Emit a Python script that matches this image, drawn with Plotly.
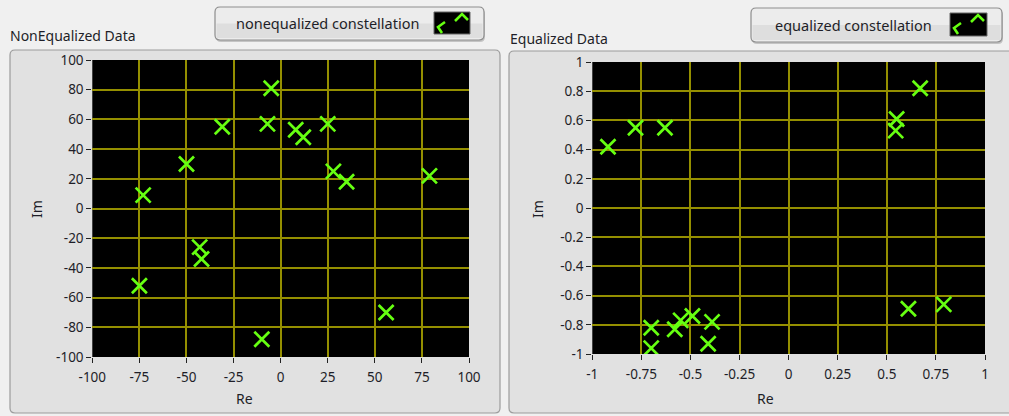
import plotly.graph_objects as go

# Received symbols before equalization (Re, Im)
re_noneq = [-5, -7, -31, 8, 12, 25, 28, 35, 79, -50, -73, -43, -42, -75, -10, 56]
im_noneq = [81, 57, 55, 53, 48, 57, 25, 18, 22, 30, 9, -26, -34, -52, -88, -70]

# Symbols after equalization (Re, Im)
re_eq = [-0.92, -0.78, -0.63, 0.55, 0.545, 0.67, 0.61, 0.79,
         -0.70, -0.70, -0.58, -0.55, -0.49, -0.39, -0.41]
im_eq = [0.42, 0.55, 0.55, 0.61, 0.53, 0.82, -0.69, -0.66,
         -0.82, -0.96, -0.83, -0.77, -0.74, -0.78, -0.93]

# Axis ticks
ticks_noneq_x = [-100, -75, -50, -25, 0, 25, 50, 75, 100]
ticks_noneq_y = [-100, -80, -60, -40, -20, 0, 20, 40, 60, 80, 100]
ticks_eq_x = [-1, -0.75, -0.5, -0.25, 0, 0.25, 0.5, 0.75, 1]
ticks_eq_y = [-1, -0.8, -0.6, -0.4, -0.2, 0, 0.2, 0.4, 0.6, 0.8, 1]

W, H = 1009, 416
FONT = "Noto Sans"
GREEN = "#66ff11"
GRID = "#948f00"
TEXT = "#1e1e28"


def fx(px):
    return px / W


def fy(py):
    return 1 - py / H


def fmt(v):
    return f"{v:g}"


def rounded_rect(x0, y0, x1, y1, r):
    # path in paper coordinates from pixel corners
    rx, ry = r / W, r / H
    X0, X1 = fx(x0), fx(x1)
    Y0, Y1 = fy(y0), fy(y1)  # Y0 top, Y1 bottom
    return (f"M {X0 + rx},{Y0} L {X1 - rx},{Y0} Q {X1},{Y0} {X1},{Y0 - ry} "
            f"L {X1},{Y1 + ry} Q {X1},{Y1} {X1 - rx},{Y1} "
            f"L {X0 + rx},{Y1} Q {X0},{Y1} {X0},{Y1 + ry} "
            f"L {X0},{Y0 - ry} Q {X0},{Y0} {X0 + rx},{Y0} Z")


def pts_path(points):
    return "M " + " L ".join(f"{fx(a)},{fy(b)}" for a, b in points)


def label(text, x, y, xanchor="center", angle=0, size=14):
    return dict(text=text, x=fx(x), y=fy(y), xref="paper", yref="paper",
                xanchor=xanchor, yanchor="middle", showarrow=False,
                textangle=angle, font=dict(family=FONT, size=size, color=TEXT))


fig = go.Figure()

marker = dict(symbol="x-thin-open", size=15, color=GREEN,
              line=dict(color=GREEN, width=2.7))

fig.add_trace(go.Scatter(x=re_noneq, y=im_noneq, mode="markers", marker=marker,
                         xaxis="x", yaxis="y", showlegend=False,
                         name="nonequalized constellation"))
fig.add_trace(go.Scatter(x=re_eq, y=im_eq, mode="markers", marker=marker,
                         xaxis="x2", yaxis="y2", showlegend=False,
                         name="equalized constellation"))

axis_common = dict(
    showgrid=True, gridcolor=GRID, gridwidth=1.6, zeroline=False,
    ticks="outside", ticklen=5, tickwidth=1, tickcolor="#222",
    showline=False, fixedrange=True, automargin=False,
    tickfont=dict(family=FONT, size=13.5, color=TEXT),
)
xaxis_extra = dict(ticklabelstandoff=3)

shapes = []
annotations = []

# Panel frames
shapes.append(dict(type="path", xref="paper", yref="paper",
                   path=rounded_rect(10, 50, 500, 413, 5),
                   fillcolor="#e1e1e1", line=dict(color="#9c9c9c", width=1.2),
                   layer="below"))
shapes.append(dict(type="path", xref="paper", yref="paper",
                   path=rounded_rect(509, 51, 1020, 413, 5),
                   fillcolor="#e1e1e1", line=dict(color="#9c9c9c", width=1.2),
                   layer="below"))

# Black plotting areas on top of the panels
for xa, ya in [("x", "y"), ("x2", "y2")]:
    shapes.append(dict(type="rect", xref=f"{xa} domain", yref=f"{ya} domain",
                       x0=0, x1=1, y0=0, y1=1, fillcolor="black",
                       line=dict(width=0), layer="below"))

# Legend buttons
for (bx0, by0, bx1, by1, ix0, iy0, ix1, iy1, text, cx, cy) in [
    (215, 7, 484, 40, 434, 12, 470, 34, "nonequalized constellation", 327, 23),
    (751, 8, 1002, 42, 950, 13, 987, 36, "equalized constellation", 853, 25),
]:
    shapes.append(dict(type="path", xref="paper", yref="paper",
                       path=rounded_rect(bx0 + 1, by0 + 2, bx1 + 1, by1 + 2, 5),
                       fillcolor="#c4c4c4", line=dict(width=0), layer="below"))
    shapes.append(dict(type="path", xref="paper", yref="paper",
                       path=rounded_rect(bx0, by0, bx1, by1, 5),
                       fillcolor="#ececec", line=dict(color="#8e8e8e", width=1.2),
                       layer="below"))
    # lower half of the button is slightly darker
    shapes.append(dict(type="rect", xref="paper", yref="paper",
                       x0=fx(bx0 + 1.5), x1=fx(bx1 - 1.5),
                       y0=fy(by1 - 2), y1=fy((by0 + by1) / 2),
                       fillcolor="#dedede", line=dict(width=0), layer="below"))
    shapes.append(dict(type="rect", xref="paper", yref="paper",
                       x0=fx(ix0), x1=fx(ix1), y0=fy(iy1), y1=fy(iy0),
                       fillcolor="black", line=dict(color="#666", width=1)))
    # marker glyph fragments in the legend swatch
    shapes.append(dict(type="path", xref="paper", yref="paper",
                       path=pts_path([(ix0 + 11, iy0 + 10), (ix0 + 4, iy0 + 15),
                                      (ix0 + 8, iy0 + 21)]),
                       line=dict(color=GREEN, width=2.6)))
    shapes.append(dict(type="path", xref="paper", yref="paper",
                       path=pts_path([(ix0 + 21, iy0 + 9), (ix0 + 28, iy0 + 2),
                                      (ix0 + 34, iy0 + 8)]),
                       line=dict(color=GREEN, width=2.6)))
    annotations.append(label(text, cx, cy, size=14.5))

# Graph titles
annotations.append(label("NonEqualized Data", 8, 35, xanchor="left"))
annotations.append(label("Equalized Data", 508, 38, xanchor="left"))

# Axis titles
annotations.append(label("Re", 244, 398))
annotations.append(label("Im", 36, 209, angle=-90))
annotations.append(label("Re", 765, 398))
annotations.append(label("Im", 537, 209, angle=-90))

fig.update_layout(
    width=W, height=H,
    margin=dict(l=0, r=0, t=0, b=0, pad=0, autoexpand=False),
    paper_bgcolor="#f0f0f0",
    plot_bgcolor="black",
    shapes=shapes,
    annotations=annotations,
    xaxis=dict(axis_common, **xaxis_extra, domain=[fx(92.3), fx(469)],
               range=[-100, 100], tickvals=ticks_noneq_x,
               ticktext=[fmt(v) for v in ticks_noneq_x], anchor="y"),
    yaxis=dict(axis_common, domain=[fy(357), fy(60)], range=[-100, 100],
               tickvals=ticks_noneq_y, ticktext=[fmt(v) for v in ticks_noneq_y],
               anchor="x"),
    xaxis2=dict(axis_common, **xaxis_extra, domain=[fx(592.3), fx(985)],
                range=[-1, 1], tickvals=ticks_eq_x,
                ticktext=[fmt(v) for v in ticks_eq_x], anchor="y2"),
    yaxis2=dict(axis_common, domain=[fy(354), fy(62)], range=[-1, 1],
                tickvals=ticks_eq_y, ticktext=[fmt(v) for v in ticks_eq_y],
                anchor="x2"),
)

fig.write_html("out.html")
